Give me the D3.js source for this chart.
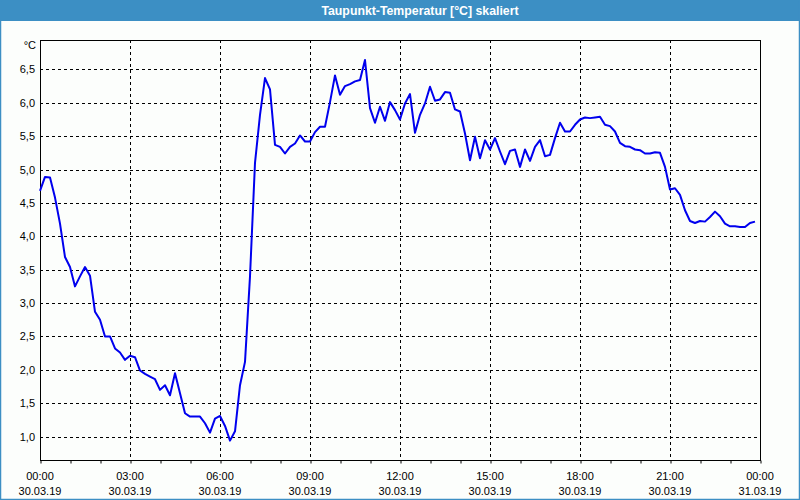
<!DOCTYPE html>
<html>
<head>
<meta charset="utf-8">
<script src="https://cdn.jsdelivr.net/npm/d3@7/dist/d3.min.js"></script>
<style>
  html, body { margin: 0; padding: 0; background: #fcfefc; }
  svg { display: block; }
</style>
</head>
<body>
<svg id="chart" width="800" height="500"></svg>
<script>
// ---- data ----
const title = "Taupunkt-Temperatur [°C] skaliert";
const unitLabel = "°C";
const startTime = new Date(2019, 2, 30, 0, 0, 0);
const endTime = new Date(2019, 2, 31, 0, 0, 0);
const stepMinutes = 10;
const dewPoint = [
  4.68, 4.89, 4.88, 4.58, 4.19, 3.69, 3.54, 3.25, 3.40, 3.54,
  3.41, 2.87, 2.75, 2.50, 2.50, 2.32, 2.26, 2.15, 2.21, 2.19,
  1.99, 1.94, 1.90, 1.86, 1.70, 1.77, 1.62, 1.95, 1.65, 1.35,
  1.30, 1.30, 1.30, 1.20, 1.06, 1.27, 1.31, 1.16, 0.94, 1.08,
  1.77, 2.12, 3.40, 5.10, 5.82, 6.37, 6.20, 5.37, 5.34, 5.24,
  5.34, 5.39, 5.51, 5.42, 5.42, 5.56, 5.64, 5.64, 6.01, 6.41,
  6.12, 6.25, 6.28, 6.32, 6.34, 6.64, 5.92, 5.70, 5.94, 5.73,
  6.01, 5.89, 5.75, 5.99, 6.13, 5.55, 5.82, 5.99, 6.24, 6.03,
  6.05, 6.16, 6.15, 5.90, 5.87, 5.54, 5.14, 5.49, 5.17, 5.44,
  5.30, 5.47, 5.27, 5.08, 5.28, 5.30, 5.04, 5.30, 5.13, 5.34,
  5.44, 5.20, 5.22, 5.47, 5.70, 5.57, 5.57, 5.67, 5.75, 5.78,
  5.77, 5.78, 5.79, 5.67, 5.65, 5.57, 5.40, 5.35, 5.34, 5.30,
  5.29, 5.24, 5.24, 5.26, 5.25, 5.04, 4.70, 4.72, 4.62, 4.39,
  4.23, 4.20, 4.23, 4.22, 4.29, 4.37, 4.30, 4.19, 4.15, 4.15,
  4.14, 4.14, 4.20, 4.22
];
const yTicks = [1.0, 1.5, 2.0, 2.5, 3.0, 3.5, 4.0, 4.5, 5.0, 5.5, 6.0, 6.5];
const yDomain = [0.65, 6.94];

// ---- layout ----
const W = 800, H = 500;
const m = { left: 40, right: 40, top: 40, bottom: 40 };
const pw = W - m.left - m.right, ph = H - m.top - m.bottom;
const font = "'Liberation Sans', Arial, sans-serif";

const svg = d3.select("#chart");

const series = dewPoint.map((v, i) => ({ t: d3.timeMinute.offset(startTime, i * stepMinutes), v }));

const x = d3.scaleTime().domain([startTime, endTime]).range([m.left, m.left + pw]);
const y = d3.scaleLinear().domain(yDomain).range([m.top + ph, m.top]);

// background
svg.append("rect").attr("x", 0).attr("y", 0).attr("width", W).attr("height", H).attr("fill", "#fcfefc");

// title bar
svg.append("rect").attr("x", 0).attr("y", 0).attr("width", W).attr("height", 21).attr("fill", "#3c8fc4");
svg.append("text").attr("x", 420).attr("y", 15).attr("text-anchor", "middle")
  .attr("font-family", font).attr("font-weight", "bold").attr("font-size", "12.3px")
  .attr("fill", "#ffffff").text(title);

// outer border
svg.append("rect").attr("x", 0.5).attr("y", 0.5).attr("width", W - 1).attr("height", H - 1)
  .attr("fill", "none").attr("stroke", "#3c8fc4").attr("stroke-width", 1.5);

// grid
const g = svg.append("g");
g.selectAll("line.hg").data(yTicks).join("line")
  .attr("x1", m.left).attr("x2", m.left + pw)
  .attr("y1", d => Math.round(y(d)) + 0.5).attr("y2", d => Math.round(y(d)) + 0.5)
  .attr("stroke", "#000").attr("stroke-width", 1).attr("stroke-dasharray", "3,3");

const majorTicks = d3.timeHour.every(3).range(startTime, d3.timeMinute.offset(endTime, 1));
const minorTicks = d3.timeHour.every(1).range(startTime, d3.timeMinute.offset(endTime, 1));
g.selectAll("line.vg").data(majorTicks.filter(d => +d !== +startTime && +d !== +endTime)).join("line")
  .attr("y1", m.top).attr("y2", m.top + ph)
  .attr("x1", d => Math.round(x(d)) + 0.5).attr("x2", d => Math.round(x(d)) + 0.5)
  .attr("stroke", "#000").attr("stroke-width", 1).attr("stroke-dasharray", "3,3");

// frame
svg.append("rect").attr("x", m.left + 0.5).attr("y", m.top + 0.5).attr("width", pw).attr("height", ph)
  .attr("fill", "none").attr("stroke", "#000").attr("stroke-width", 1);

// x axis
const xAxis = d3.axisBottom(x).tickValues(minorTicks).tickSize(3).tickFormat("");
svg.append("g").attr("transform", `translate(0.5,${m.top + ph + 0.5})`).call(xAxis)
  .call(s => s.select(".domain").remove())
  .call(s => s.selectAll(".tick line").attr("stroke", "#000"));

const fmtTime = d3.timeFormat("%H:%M");
const fmtDate = d3.timeFormat("%d.%m.%y");
const xl = svg.append("g").attr("font-family", font).attr("font-size", "11px").attr("fill", "#000");
majorTicks.forEach(d => {
  const t = xl.append("text").attr("x", x(d)).attr("text-anchor", "middle");
  t.append("tspan").attr("x", x(d)).attr("y", 479.5).text(fmtTime(d));
  t.append("tspan").attr("x", x(d)).attr("y", 494.5).text(fmtDate(d));
});

// y labels
const fmtY = v => d3.format(".1f")(v).replace(".", ",");
const yl = svg.append("g").attr("font-family", font).attr("font-size", "11px").attr("fill", "#000");
yl.selectAll("text").data(yTicks).join("text")
  .attr("x", 35).attr("y", d => y(d) + 4).attr("text-anchor", "end").text(fmtY);
yl.append("text").attr("x", 36).attr("y", 49).attr("text-anchor", "end").text(unitLabel);

// line
const line = d3.line().x(d => x(d.t)).y(d => y(d.v));
svg.append("path").datum(series).attr("d", line)
  .attr("fill", "none").attr("stroke", "#0000ee").attr("stroke-width", 2)
  .attr("stroke-linejoin", "round");
</script>
</body>
</html>
